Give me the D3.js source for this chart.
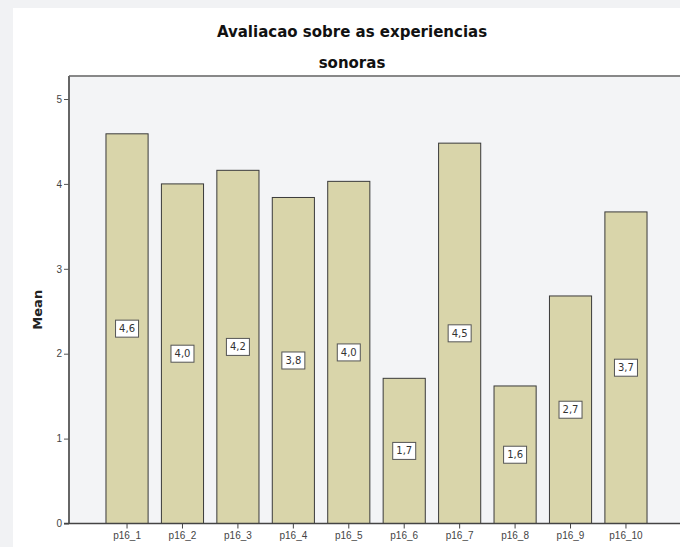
<!DOCTYPE html>
<html lang="en">
<head>
  <meta charset="UTF-8">
  <title>Avaliacao sobre as experiencias sonoras</title>
  <style>
    body { margin: 0; background: #f1f2f4; font-family: 'DejaVu Sans', Verdana, sans-serif; overflow: hidden; }
    #chart { position: absolute; left: 0; top: 0; }
    .tick text { fill: #444; font-size: 10px; }
    .label-box { fill: #fff; stroke: #555; stroke-width: 1; }
    .label-text { font-size: 10px; fill: #333; }
  </style>
</head>
<body>
  <div id="chart"></div>
  <script src="https://d3js.org/d3.v7.min.js"></script>
  <script>
    const categories = ['p16_1', 'p16_2', 'p16_3', 'p16_4', 'p16_5', 'p16_6', 'p16_7', 'p16_8', 'p16_9', 'p16_10'];
    const means = [4.59, 4.00, 4.16, 3.84, 4.03, 1.71, 4.48, 1.62, 2.68, 3.67];
    const yTicks = [0, 1, 2, 3, 4, 5];

    const W = 680, H = 547;
    const plot = { left: 69, top: 76, right: 684, bottom: 523.5 };

    const svg = d3.select('#chart').append('svg')
      .attr('width', W).attr('height', H);

    // white panel
    svg.append('rect').attr('x', 13).attr('y', 8).attr('width', W - 13).attr('height', H - 8).attr('fill', '#fff');

    // plot background + top frame
    svg.append('rect')
      .attr('x', plot.left).attr('y', plot.top)
      .attr('width', W - plot.left).attr('height', plot.bottom - plot.top)
      .attr('fill', '#f3f4f6');
    svg.append('line')
      .attr('x1', plot.left).attr('x2', W)
      .attr('y1', plot.top).attr('y2', plot.top)
      .attr('stroke', '#888').attr('stroke-width', 2);

    const x = d3.scaleBand()
      .domain(categories)
      .range([plot.left, plot.right])
      .paddingInner(0.24)
      .paddingOuter(0.667);

    const y = d3.scaleLinear()
      .domain([0, 5])
      .range([plot.bottom, 99]);

    const fmt = v => d3.format('.1f')(v).replace('.', ',');

    // bars
    svg.append('g').selectAll('rect')
      .data(means)
      .enter().append('rect')
      .attr('x', (d, i) => x(categories[i]))
      .attr('y', d => y(d))
      .attr('width', x.bandwidth())
      .attr('height', d => y(0) - y(d))
      .attr('fill', '#d9d5aa')
      .attr('stroke', '#3a3a3a')
      .attr('stroke-width', 1);

    // value labels at bar mid-height
    const lab = svg.append('g').selectAll('g')
      .data(means)
      .enter().append('g')
      .attr('transform', (d, i) => `translate(${x(categories[i]) + x.bandwidth() / 2},${(y(d) + y(0)) / 2})`);
    lab.append('rect').attr('class', 'label-box')
      .attr('x', -11.5).attr('y', -8.5).attr('width', 23).attr('height', 17);
    lab.append('text').attr('class', 'label-text')
      .attr('text-anchor', 'middle').attr('dy', '0.35em')
      .text(d => fmt(d));

    // axes
    const yAxis = svg.append('g')
      .attr('transform', `translate(${plot.left},0)`)
      .call(d3.axisLeft(y).tickValues(yTicks).tickSize(5).tickPadding(2).tickFormat(d3.format('d')));
    yAxis.select('.domain').attr('stroke', '#666').attr('stroke-width', 2).attr('d', `M0,${plot.top}V${plot.bottom}`);
    yAxis.selectAll('.tick line').attr('stroke', '#555');

    const xAxis = svg.append('g')
      .attr('transform', `translate(0,${plot.bottom})`)
      .call(d3.axisBottom(x).tickSize(5).tickPadding(3));
    xAxis.select('.domain').attr('stroke', '#444').attr('stroke-width', 1.5).attr('d', `M${plot.left - 5},0H${W}`);
    xAxis.selectAll('.tick line').attr('stroke', '#444');

    // titles
    svg.append('text').attr('x', 352).attr('y', 37)
      .attr('text-anchor', 'middle').attr('font-size', 15).attr('font-weight', 'bold').attr('fill', '#111')
      .text('Avaliacao sobre as experiencias');
    svg.append('text').attr('x', 352).attr('y', 68)
      .attr('text-anchor', 'middle').attr('font-size', 15).attr('font-weight', 'bold').attr('fill', '#111')
      .text('sonoras');

    svg.append('text')
      .attr('transform', `translate(42,${(plot.top + plot.bottom) / 2 + 10}) rotate(-90)`)
      .attr('text-anchor', 'middle').attr('font-size', 13).attr('font-weight', 'bold').attr('fill', '#222')
      .text('Mean');
  </script>
</body>
</html>
